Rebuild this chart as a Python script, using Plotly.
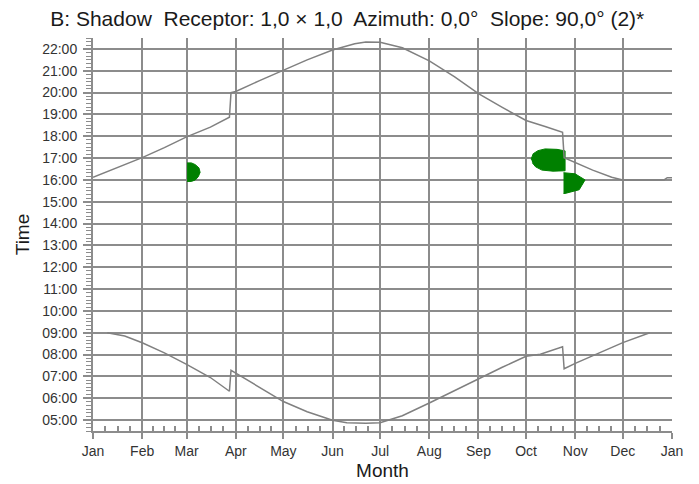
import plotly.graph_objects as go

# ---------------- data ----------------
month_labels = ["Jan", "Feb", "Mar", "Apr", "May", "Jun", "Jul", "Aug", "Sep", "Oct", "Nov", "Dec", "Jan"]
month_start_day = [0, 31, 59, 90, 120, 151, 181, 212, 243, 273, 304, 334, 365]

hour_ticks = list(range(5, 23))
hour_labels = ["%02d:00" % h for h in hour_ticks]

# sunset curve (day of year, hour)
sunset_day = [0, 15, 31, 45, 59, 74, 86, 87, 90, 105, 120, 135, 151, 165, 172, 181, 195, 212,
              228, 243, 258, 273, 285, 296, 297, 304, 315, 327, 334, 345, 360, 362, 365]
sunset_hour = [16.12, 16.55, 17.02, 17.48, 17.97, 18.42, 18.87, 20.0, 20.05, 20.55, 21.03, 21.5,
               21.95, 22.24, 22.32, 22.3, 22.05, 21.45, 20.72, 19.95, 19.32, 18.72, 18.45, 18.18,
               17.02, 16.8, 16.45, 16.12, 16.0, 16.0, 16.0, 16.1, 16.1]

# sunrise curve (day of year, hour)
sunrise_day = [9, 20, 31, 45, 59, 74, 86, 87, 90, 105, 120, 135, 151, 160, 172, 181, 195, 212,
               228, 243, 258, 273, 282, 296, 297, 304, 320, 334, 351]
sunrise_hour = [9.0, 8.85, 8.54, 8.08, 7.55, 6.95, 6.32, 7.28, 7.15, 6.48, 5.85, 5.38, 4.99,
                4.88, 4.85, 4.88, 5.2, 5.78, 6.35, 6.89, 7.42, 7.92, 8.02, 8.36, 7.35, 7.6,
                8.1, 8.55, 9.0]

# shadow areas (day of year, hour)
shadow_mar_day = [59.3, 62.0, 64.5, 66.4, 67.5, 66.8, 64.5, 62.0, 59.3]
shadow_mar_hour = [15.93, 15.93, 16.0, 16.15, 16.35, 16.55, 16.7, 16.78, 16.78]

shadow_oct_day = [276.2, 277.5, 280.5, 285.0, 292.5, 297.6, 297.6, 290.0, 283.0, 279.0, 277.0]
shadow_oct_hour = [16.95, 17.2, 17.34, 17.42, 17.4, 17.33, 16.42, 16.4, 16.45, 16.6, 16.78]

shadow_nov_day = [296.6, 303.9, 310.2, 306.5, 297.6, 296.6]
shadow_nov_hour = [16.33, 16.28, 16.0, 15.55, 15.38, 15.38]

# ---------------- figure ----------------
CURVE = "#808080"
GRID = "#8c8c8c"
GREEN = "#008000"
FONT = "Liberation Sans, Arial, sans-serif"

fig = go.Figure()

for dx, hy in [(shadow_mar_day, shadow_mar_hour), (shadow_oct_day, shadow_oct_hour),
               (shadow_nov_day, shadow_nov_hour)]:
    fig.add_trace(go.Scatter(x=dx, y=hy, mode="lines", fill="toself", fillcolor=GREEN,
                             line=dict(color=GREEN, width=1), hoverinfo="skip", showlegend=False))

fig.add_trace(go.Scatter(x=sunset_day, y=sunset_hour, mode="lines",
                         line=dict(color=CURVE, width=1.5), showlegend=False))
fig.add_trace(go.Scatter(x=sunrise_day, y=sunrise_hour, mode="lines",
                         line=dict(color=CURVE, width=1.5), showlegend=False))

minor_x = []
for i in range(12):
    a, b = month_start_day[i], month_start_day[i + 1]
    for k in (1, 2, 3):
        minor_x.append(a + (b - a) * k / 4.0)

fig.update_layout(
    width=691, height=476,
    margin=dict(l=85, r=27, t=30, b=53),
    paper_bgcolor="white", plot_bgcolor="white",
    font=dict(family=FONT, color="#333333", size=14),
    title=dict(text="B: Shadow  Receptor: 1,0 × 1,0  Azimuth: 0,0°  Slope: 90,0° (2)*",
               x=0.491, xanchor="center", y=0.993, yanchor="top", pad=dict(t=0, b=0),
               font=dict(family=FONT, size=21, color="#1a1a1a")),
    xaxis=dict(
        range=[0, 365], tickmode="array", tickvals=month_start_day, ticktext=month_labels,
        showgrid=True, gridcolor=GRID, gridwidth=2,
        showline=True, linecolor=GRID, linewidth=2,
        ticks="outside", ticklen=6, tickwidth=2, tickcolor=GRID,
        tickfont=dict(size=14, color="#333333"),
        minor=dict(tickmode="array", tickvals=minor_x, ticks="inside", ticklen=5,
                   tickwidth=1.5, tickcolor=GRID, showgrid=False),
        title=dict(text="Month", font=dict(size=19, color="#1a1a1a"), standoff=6),
        zeroline=False, fixedrange=True, automargin=False,
    ),
    yaxis=dict(
        range=[4.5, 22.5], tickmode="array", tickvals=hour_ticks, ticktext=hour_labels,
        showgrid=True, gridcolor=GRID, gridwidth=2,
        showline=True, linecolor=GRID, linewidth=2,
        ticks="outside", ticklen=8, tickwidth=1.5, tickcolor=GRID,
        ticklabelstandoff=3,
        tickfont=dict(size=14, color="#333333"),
        minor=dict(tick0=0, dtick=1.0 / 6.0, ticks="outside", ticklen=5,
                   tickwidth=1, tickcolor=GRID, showgrid=False),
        title=dict(text="Time", font=dict(size=19, color="#1a1a1a"), standoff=8),
        zeroline=False, fixedrange=True, automargin=False,
    ),
)

fig.write_html("out.html")
